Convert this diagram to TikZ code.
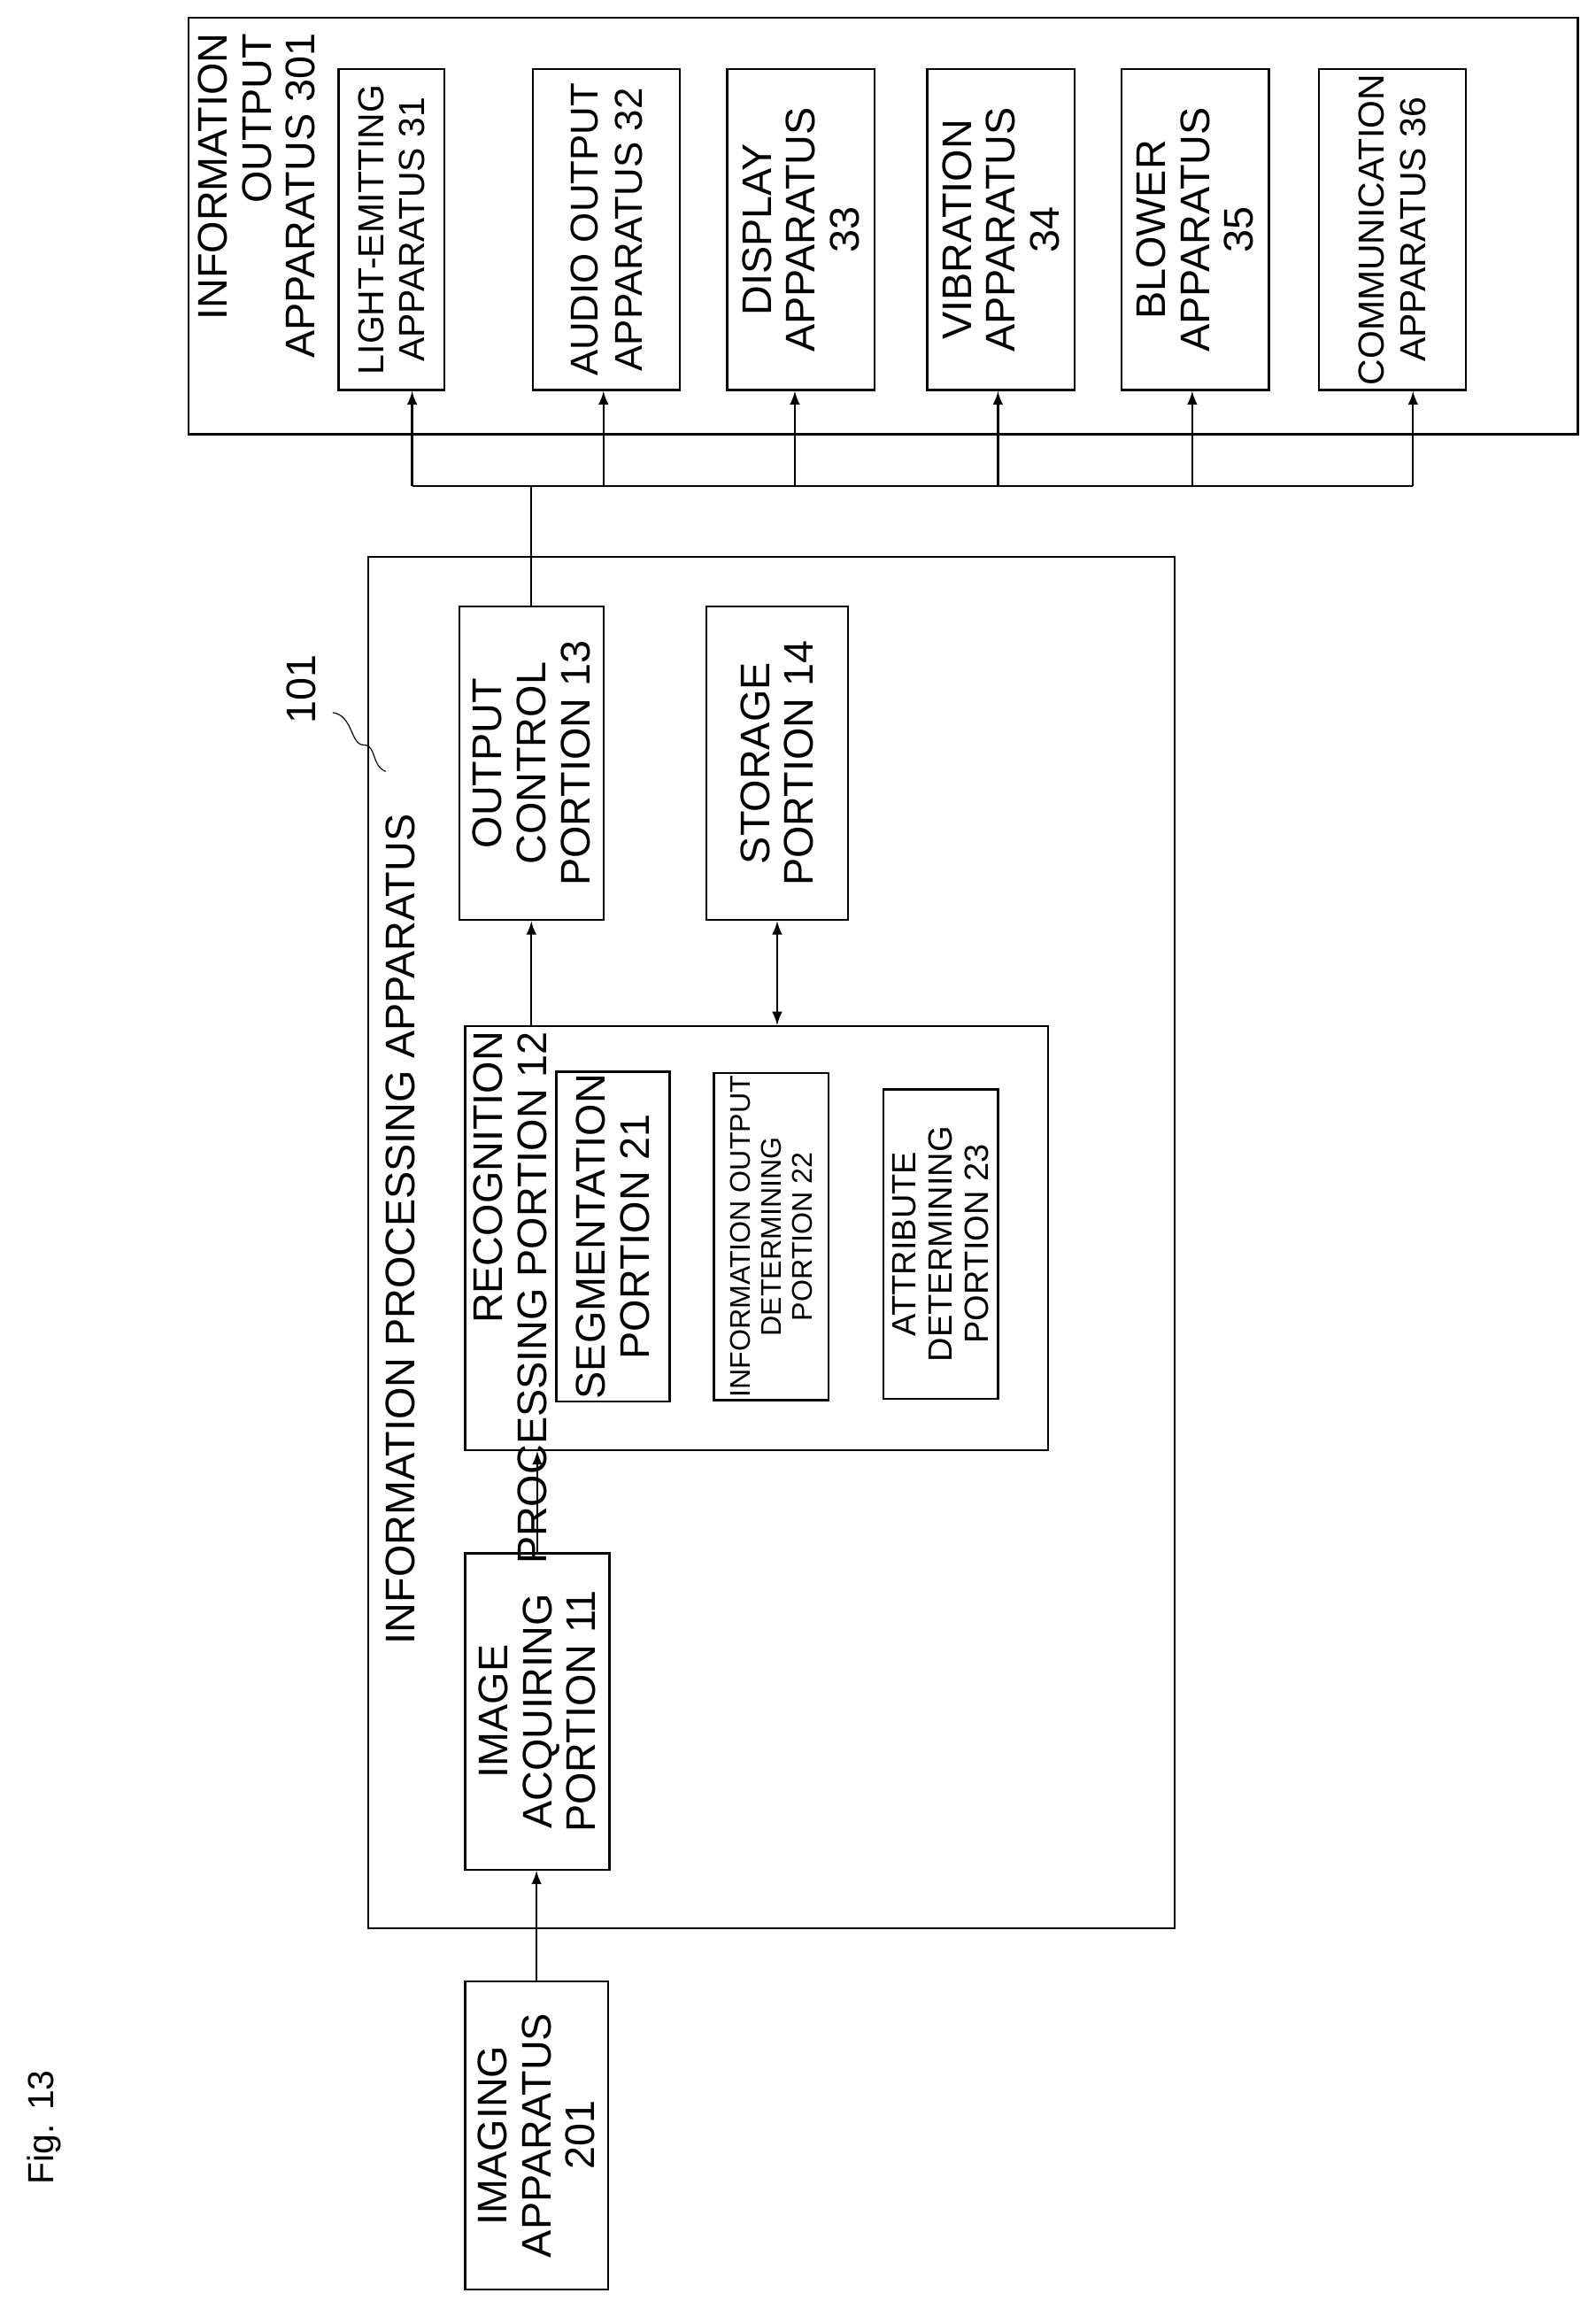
\documentclass[tikz,border=0pt]{standalone}
\usepackage{fontspec}
\setmainfont{Liberation Sans}
\usetikzlibrary{arrows}

\begin{document}
\begin{tikzpicture}[x=0.02cm, y=-0.02cm, >=latex, thick,
  blk/.style={draw, rotate=90, align=center, inner sep=1pt,
    font=\fontsize{16}{17}\selectfont},
  dev/.style={blk, minimum width=4.36cm, minimum height=2cm},
  lbl/.style={rotate=90, align=right, inner sep=0pt,
    font=\fontsize{16}{17}\selectfont}]
\useasboundingbox (0,0) rectangle (1084,1563);

% information output apparatus
\node[draw, minimum width=18.88cm, minimum height=5.66cm] (outinfo) at (600,153.5) {};
\node[lbl, anchor=north east] (outlbl) at (134,22) {INFORMATION\\OUTPUT\\APPARATUS 301};
\node[dev, minimum height=1.44cm, font=\fontsize{14}{16}\selectfont] (le) at (266,156) {LIGHT-EMITTING\\APPARATUS 31};
\node[dev, font=\fontsize{15}{17}\selectfont] (audio) at (412,156) {AUDIO OUTPUT\\APPARATUS 32};
\node[dev] (disp) at (544,156) {DISPLAY\\APPARATUS\\33};
\node[dev] (vib) at (680,156) {VIBRATION\\APPARATUS\\34};
\node[dev] (blow) at (812,156) {BLOWER\\APPARATUS\\35};
\node[dev, font=\fontsize{14}{16}\selectfont] (comm) at (946,156) {COMMUNICATION\\APPARATUS 36};

% information processing apparatus
\node[draw, minimum width=10.96cm, minimum height=18.64cm] (ipa) at (524,844) {};
\node[lbl, anchor=center] (ipalbl) at (272,835) {INFORMATION PROCESSING APPARATUS};
\node[rotate=90, font=\fontsize{16}{17}\selectfont] (num) at (205,468) {101};
\draw[thin] (226,484) .. controls (240,486) and (238,506) .. (247,506)
  .. controls (256,506) and (252,520) .. (262,524);

\node[blk, minimum width=4.26cm, minimum height=1.96cm] (oc) at (361,518.5) {OUTPUT\\CONTROL\\PORTION 13};
\node[blk, minimum width=4.26cm, minimum height=1.92cm] (st) at (528,518.5) {STORAGE\\PORTION 14};

\node[draw, minimum width=7.92cm, minimum height=5.76cm] (rec) at (514,841) {};
\node[lbl, anchor=north east] (reclbl) at (321,700) {RECOGNITION\\PROCESSING PORTION 12};
\node[blk, minimum width=4.2cm, minimum height=1.54cm] (seg) at (416.5,840) {SEGMENTATION\\PORTION 21};
\node[blk, minimum width=4.2cm, minimum height=1.56cm, font=\fontsize{11}{12}\selectfont] (iod) at (524,840) {INFORMATION OUTPUT\\DETERMINING\\PORTION 22};
\node[blk, minimum width=4.2cm, minimum height=1.56cm, font=\fontsize{13}{14}\selectfont] (att) at (639,845) {ATTRIBUTE\\DETERMINING\\PORTION 23};

\node[blk, minimum width=4.3cm, minimum height=1.96cm] (ia) at (365,1162.5) {IMAGE\\ACQUIRING\\PORTION 11};

% imaging apparatus
\node[blk, minimum width=4.18cm, minimum height=1.94cm] (img) at (364.5,1450.5) {IMAGING\\APPARATUS\\201};
\node[rotate=90, font=\fontsize{14}{15}\selectfont] (fig) at (30,1445) {Fig. 13};

% connectors
\draw[->] (img.east) -- (img.east |- ia.west);
\draw[->] (ia.east) -- (ia.east |- rec.south);
\draw[->] (oc.west |- rec.north) -- (oc.west);
\draw[<->] (st.west) -- (st.west |- rec.north);
\coordinate (busL) at (280,330);
\coordinate (busR) at (960,330);
\draw (busL) -- (busR);
\draw (oc.east) -- (oc.east |- busL);
\foreach \b/\x in {le/280,audio/410,disp/540,vib/678,blow/810,comm/960}{
  \coordinate (t\b) at (\x,330);
  \draw[->] (t\b) -- (t\b |- \b.west);
}
\end{tikzpicture}
\end{document}
